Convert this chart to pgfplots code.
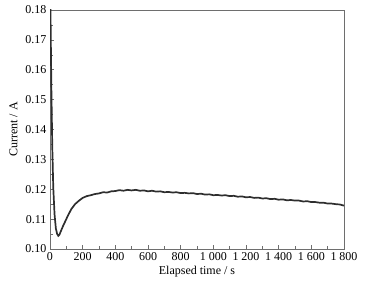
\documentclass[border=0pt]{standalone}
\usepackage{pgfplots}
\pgfplotsset{compat=1.18}
\usepackage{fontspec}
\setmainfont{Liberation Serif}

\definecolor{curve}{HTML}{2E2E2E}
\definecolor{frame}{HTML}{6E6E6E}

\begin{document}
\begin{tikzpicture}
\begin{axis}[
    scale only axis,
    width=294pt, height=239pt,
    xmin=0, xmax=1800, ymin=0.10, ymax=0.18,
    xtick={0,200,...,1800},
    ytick={0.10,0.11,...,0.18},
    minor x tick num=1,
    minor y tick num=1,
    tick pos=left,
    tick align=inside,
    major tick length=4pt,
    minor tick length=2.5pt,
    axis line style={frame, line width=0.8pt},
    every tick/.style={frame, line width=0.6pt},
    tick label style={font=\fontsize{12}{14}\selectfont},
    label style={font=\fontsize{12}{14}\selectfont},
    /pgf/number format/assume math mode=true,
    x tick label style={/pgf/number format/1000 sep={\ }},
    y tick label style={/pgf/number format/.cd, fixed, fixed zerofill, precision=2},
    scaled y ticks=false,
    xlabel={Elapsed time / s},
    ylabel={Current / A},
    xlabel style={yshift=1pt},
    ylabel style={yshift=1pt},
]
\addplot[curve, line width=1.7pt] coordinates {
(0,0.200) (3,0.180) (8,0.155) (14,0.134) (20,0.1205) (28,0.1115) (36,0.1068)
(44,0.1050) (51,0.1044) (58,0.1048) (66,0.1059) (80,0.1077) (92,0.1091)
(110,0.1112) (130,0.1133) (153,0.1150) (178,0.1162) (200,0.1171)
(225,0.1177) (250,0.1180) (275,0.1184) (300,0.1186) (325,0.1190) (350,0.1189)
(375,0.1193) (400,0.1194) (425,0.1197) (450,0.1195) (475,0.1198) (500,0.1196)
(525,0.1198) (550,0.1195) (575,0.1196) (600,0.1193) (625,0.1195) (650,0.1192)
(675,0.1193) (700,0.1190) (725,0.1191) (750,0.1189) (775,0.1190) (800,0.1187)
(825,0.1188) (850,0.1186) (875,0.1187) (900,0.1184) (925,0.1185) (950,0.1182)
(975,0.1183) (1000,0.1180) (1025,0.1181) (1050,0.1179) (1075,0.1180) (1100,0.1177)
(1125,0.1178) (1150,0.1175) (1175,0.1176) (1200,0.1173) (1225,0.1174) (1250,0.1171)
(1275,0.1172) (1300,0.1169) (1325,0.1170) (1350,0.1167) (1375,0.1168) (1400,0.1165)
(1425,0.1166) (1450,0.1163) (1475,0.1164) (1500,0.1162) (1525,0.1162) (1550,0.1159)
(1575,0.1160) (1600,0.1157) (1625,0.1157) (1650,0.1155) (1675,0.1155) (1700,0.1152)
(1725,0.1152) (1750,0.1150) (1775,0.1149) (1800,0.1145)
};
\end{axis}
\path ([xshift=-50pt,yshift=-31pt]current axis.south west) rectangle ([xshift=30pt,yshift=10pt]current axis.north east);
\end{tikzpicture}
\end{document}
